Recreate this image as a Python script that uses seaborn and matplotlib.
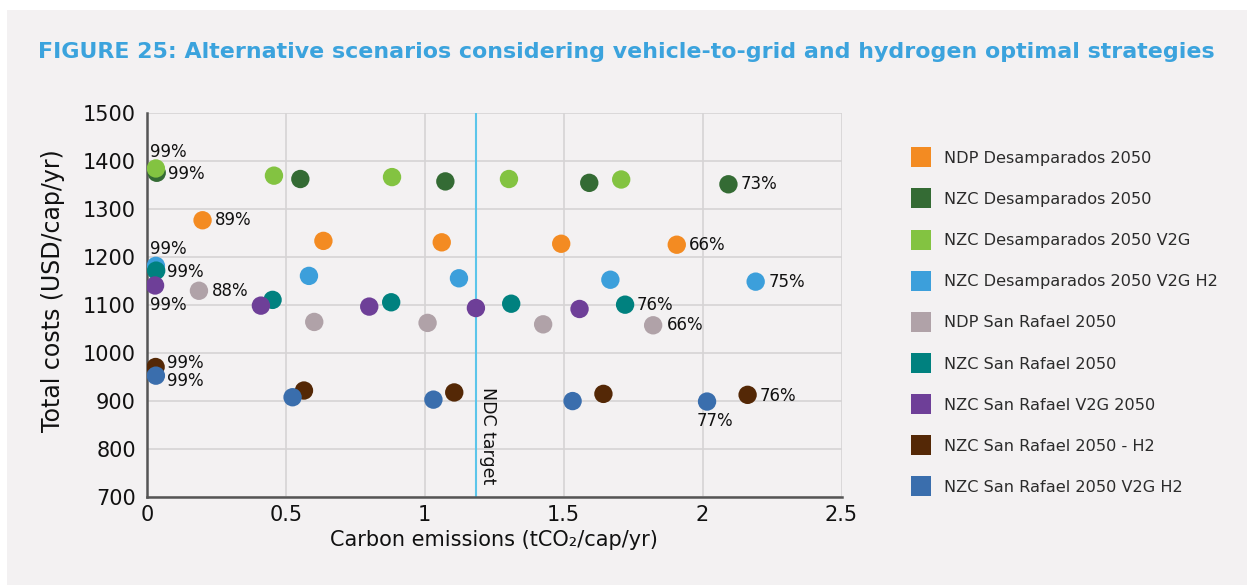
import matplotlib
matplotlib.use("Agg")
import matplotlib.pyplot as plt
from matplotlib.lines import Line2D
from matplotlib.patches import Rectangle
import pandas as pd
import seaborn as sns

# scenario names (legend order = drawing order)
scenarios = [
    "NDP Desamparados 2050",
    "NZC Desamparados 2050",
    "NZC Desamparados 2050 V2G",
    "NZC Desamparados 2050 V2G H2",
    "NDP San Rafael 2050",
    "NZC San Rafael 2050",
    "NZC San Rafael V2G 2050",
    "NZC San Rafael 2050 - H2",
    "NZC San Rafael 2050 V2G H2",
]
colors = ["#F38B22", "#346B34", "#83C341", "#3C9FDB", "#B0A2A8",
          "#00817F", "#6E3F98", "#542806", "#3A6EAD"]

# carbon emissions (tCO2/cap/yr) and total costs (USD/cap/yr), one pair per scenario
ndp_des_x = [0.20, 0.635, 1.061, 1.491, 1.907]
ndp_des_y = [1277, 1234, 1231, 1228, 1226]
nzc_des_x = [0.035, 0.552, 1.074, 1.592, 2.093]
nzc_des_y = [1376, 1363, 1358, 1355, 1352]
nzc_des_v2g_x = [0.032, 0.457, 0.882, 1.303, 1.707]
nzc_des_v2g_y = [1385, 1370, 1367, 1363, 1362]
nzc_des_v2g_h2_x = [0.032, 0.583, 1.123, 1.668, 2.191]
nzc_des_v2g_h2_y = [1182, 1161, 1156, 1153, 1149]
ndp_sr_x = [0.187, 0.602, 1.010, 1.426, 1.822]
ndp_sr_y = [1130, 1065, 1063, 1060, 1058]
nzc_sr_x = [0.033, 0.452, 0.879, 1.311, 1.721]
nzc_sr_y = [1172, 1111, 1106, 1103, 1101]
nzc_sr_v2g_x = [0.029, 0.410, 0.800, 1.184, 1.557]
nzc_sr_v2g_y = [1141, 1099, 1097, 1094, 1092]
nzc_sr_h2_x = [0.031, 0.565, 1.106, 1.643, 2.162]
nzc_sr_h2_y = [971, 922, 918, 915, 913]
nzc_sr_v2g_h2_x = [0.032, 0.524, 1.031, 1.532, 2.016]
nzc_sr_v2g_h2_y = [953, 908, 903, 900, 899]

# percentage labels on first / last point of each scenario
first_labels = ["89%", "99%", "99%", "99%", "88%", "99%", "99%", "99%", "99%"]
last_labels = ["66%", "73%", None, "75%", "66%", "76%", None, "76%", "77%"]

ndc_target = 1.184

xs = [ndp_des_x, nzc_des_x, nzc_des_v2g_x, nzc_des_v2g_h2_x, ndp_sr_x,
      nzc_sr_x, nzc_sr_v2g_x, nzc_sr_h2_x, nzc_sr_v2g_h2_x]
ys = [ndp_des_y, nzc_des_y, nzc_des_v2g_y, nzc_des_v2g_h2_y, ndp_sr_y,
      nzc_sr_y, nzc_sr_v2g_y, nzc_sr_h2_y, nzc_sr_v2g_h2_y]

rows = []
for name, x, y in zip(scenarios, xs, ys):
    for xi, yi in zip(x, y):
        rows.append({"scenario": name, "emissions": xi, "cost": yi})
df = pd.DataFrame(rows)

# label placement (offset in points, horizontal alignment)
first_offsets = [(9, 0, "left"), (8, -1, "left"), (-4, 12, "left"), (-4, 12, "left"),
                 (9, 0, "left"), (8, -1, "left"), (-4, -14, "left"), (8, 3, "left"),
                 (8, -4, "left")]
last_offsets = [(9, 0, "left"), (9, 0, "left"), None, (9, 0, "left"), (10, 0, "left"),
                (8, 0, "left"), None, (9, -1, "left"), (6, -14, "center")]

bg = "#F3F1F2"
sns.set_theme(style="white")
plt.rcParams["font.family"] = ["DejaVu Sans"]

fig = plt.figure(figsize=(12.47, 5.85), dpi=100)
fig.patch.set_facecolor("white")
fig.patches.append(Rectangle((7 / 1247, 0), 1 - 7 / 1247, 1 - 10 / 585,
                             transform=fig.transFigure, facecolor=bg,
                             edgecolor="none", zorder=-10))

ax = fig.add_axes([147 / 1247, 88 / 585, (841.5 - 147) / 1247, (497 - 113.3) / 585])
ax.set_facecolor(bg)

sns.scatterplot(data=df, x="emissions", y="cost", hue="scenario",
                hue_order=scenarios, palette=colors, s=175, linewidth=0,
                legend=False, ax=ax, zorder=3)

ax.axvline(ndc_target, color="#5BC5EA", lw=1.5, zorder=2)
ax.annotate("NDC target", xy=(ndc_target, 930), xytext=(2.5, 0),
            textcoords="offset points", rotation=270, ha="left", va="top",
            fontsize=12.5, color="#111111")

for i in range(len(scenarios)):
    x, y = xs[i], ys[i]
    dx, dy, ha = first_offsets[i]
    ax.annotate(first_labels[i], xy=(x[0], y[0]), xytext=(dx, dy),
                textcoords="offset points", ha=ha, va="center",
                fontsize=12, color="#111111", zorder=4)
    if last_labels[i] is not None:
        dx, dy, ha = last_offsets[i]
        ax.annotate(last_labels[i], xy=(x[-1], y[-1]), xytext=(dx, dy),
                    textcoords="offset points", ha=ha, va="center",
                    fontsize=12, color="#111111", zorder=4)

ax.set_xlim(0, 2.5)
ax.set_ylim(700, 1500)
ax.set_xticks([0, 0.5, 1, 1.5, 2, 2.5])
ax.set_xticklabels(["0", "0.5", "1", "1.5", "2", "2.5"])
ax.set_yticks(range(700, 1501, 100))
ax.grid(True, color="#D6D4D5", lw=1.2, zorder=0)
ax.set_axisbelow(True)
for side in ["top", "right"]:
    ax.spines[side].set_visible(False)
for side in ["left", "bottom"]:
    ax.spines[side].set_color("#555555")
    ax.spines[side].set_linewidth(1.8)
ax.tick_params(axis="both", length=0, labelsize=15, colors="#111111")
ax.tick_params(axis="y", pad=8)
ax.tick_params(axis="x", pad=6)
ax.set_xlabel("Carbon emissions (tCO\u2082/cap/yr)", fontsize=15, color="#111111", labelpad=3)
ax.set_ylabel("Total costs (USD/cap/yr)", fontsize=17, color="#111111", labelpad=13)
ax.yaxis.label.set_y(0.539)

handles = [Line2D([0], [0], marker="s", linestyle="none", markersize=14,
                  markerfacecolor=c, markeredgewidth=0) for c in colors]
fig.legend(handles, scenarios, loc="upper left", bbox_to_anchor=(897 / 1247, 1 - 136.5 / 585),
           frameon=False, fontsize=11.6, labelspacing=1.62, handletextpad=0.8,
           labelcolor="#2B2B2B", handlelength=1.2)

fig.text(626 / 1247, 1 - 52 / 585,
         "FIGURE 25: Alternative scenarios considering vehicle-to-grid and hydrogen optimal strategies",
         ha="center", va="center", fontsize=15.9, fontweight="bold", color="#3BA3DD")

fig.savefig("out.png", dpi=100, facecolor=fig.get_facecolor())
